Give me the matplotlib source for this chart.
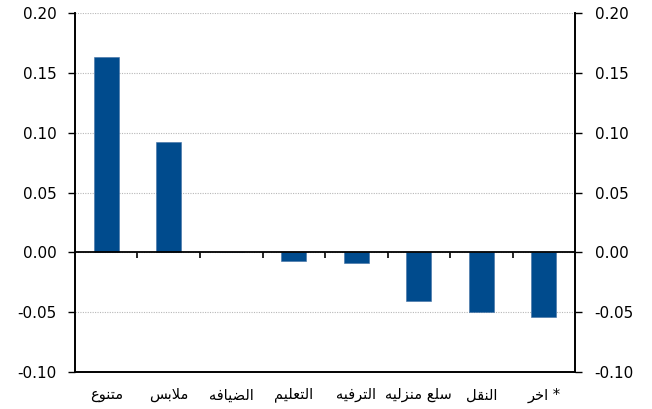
import matplotlib
matplotlib.use('Agg')
import matplotlib.pyplot as plt

categories = ["متنوع", "ملابس", "الضيافه", "التعليم", "الترفيه", "سلع منزليه", "النقل", "اخر *"]
values = [0.163, 0.092, 0.0, -0.007, -0.009, -0.041, -0.050, -0.054]
yticks = [-0.10, -0.05, 0.0, 0.05, 0.10, 0.15, 0.20]

# Arabic presentation forms (isolated, final, initial, medial)
FORMS = {
    'ا': (0xFE8D, 0xFE8E),
    'ب': (0xFE8F, 0xFE90, 0xFE91, 0xFE92),
    'ت': (0xFE95, 0xFE96, 0xFE97, 0xFE98),
    'خ': (0xFEA5, 0xFEA6, 0xFEA7, 0xFEA8),
    'ر': (0xFEAD, 0xFEAE),
    'ز': (0xFEAF, 0xFEB0),
    'س': (0xFEB1, 0xFEB2, 0xFEB3, 0xFEB4),
    'ض': (0xFEBD, 0xFEBE, 0xFEBF, 0xFEC0),
    'ع': (0xFEC9, 0xFECA, 0xFECB, 0xFECC),
    'ف': (0xFED1, 0xFED2, 0xFED3, 0xFED4),
    'ق': (0xFED5, 0xFED6, 0xFED7, 0xFED8),
    'ل': (0xFEDD, 0xFEDE, 0xFEDF, 0xFEE0),
    'م': (0xFEE1, 0xFEE2, 0xFEE3, 0xFEE4),
    'ن': (0xFEE5, 0xFEE6, 0xFEE7, 0xFEE8),
    'ه': (0xFEE9, 0xFEEA, 0xFEEB, 0xFEEC),
    'و': (0xFEED, 0xFEEE),
    'ي': (0xFEF1, 0xFEF2, 0xFEF3, 0xFEF4),
}


def shape(word):
    out = []
    i, n = 0, len(word)
    while i < n:
        c = word[i]
        if c not in FORMS:
            out.append(c)
            i += 1
            continue
        prev = word[i - 1] if i > 0 else ''
        pj = prev in FORMS and len(FORMS[prev]) == 4
        if c == 'ل' and i + 1 < n and word[i + 1] == 'ا':
            out.append(chr(0xFEFC if pj else 0xFEFB))
            i += 2
            continue
        f = FORMS[c]
        nxt = word[i + 1] if i + 1 < n else ''
        nj = len(f) == 4 and nxt in FORMS
        if pj and nj:
            g = f[3]
        elif pj:
            g = f[1]
        elif nj:
            g = f[2]
        else:
            g = f[0]
        out.append(chr(g))
        i += 1
    return ''.join(out)


def visual(s):
    j = len(s)
    while j > 0 and s[j - 1] not in FORMS:
        j -= 1
    return shape(s[:j])[::-1] + s[j:]


plt.rcParams['font.family'] = ['DejaVu Sans']

fig = plt.figure(figsize=(6.52, 4.09), dpi=100)
ax = fig.add_axes([0.115, 0.0905, 0.767, 0.8775])

x = list(range(len(categories)))
color = '#004B8D'
ax.bar(x, values, width=0.4, color=color, edgecolor='#3f6fa3', linewidth=0.4, zorder=3)

ymin, ymax = -0.10, 0.20
ax.set_ylim(ymin, ymax)
ax.set_xlim(-0.5, len(categories) - 0.5)
ax.set_yticks(yticks)
ax.set_yticklabels([f"{v:.2f}" for v in yticks], fontsize=11)
ax.grid(axis='y', color='#b8b8b8', linestyle=(0, (1, 1.2)), linewidth=0.8, zorder=0)
ax.tick_params(axis='y', direction='out', length=5, width=1, color='black', pad=8)

ax.set_xticks(x)
ax.set_xticklabels([visual(c) for c in categories], fontsize=10.5)
ax.tick_params(axis='x', length=0, pad=11)

for s in ['left', 'right', 'bottom']:
    ax.spines[s].set_linewidth(1.2)
    ax.spines[s].set_color('black')
ax.spines['top'].set_visible(False)

# zero line with category separator ticks
ax.axhline(0, color='black', linewidth=1.3, zorder=4)
loc = (0 - ymin) / (ymax - ymin)
sec = ax.secondary_xaxis(loc)
sec.set_xticks([i + 0.5 for i in x[:-1]])
sec.set_xticklabels([])
sec.tick_params(axis='x', direction='out', length=4, width=1.2, color='black')
for s in sec.spines.values():
    s.set_visible(False)

ax2 = ax.twinx()
ax2.set_ylim(ymin, ymax)
ax2.set_yticks(yticks)
ax2.set_yticklabels([f"{v:.2f}" for v in yticks], fontsize=11)
ax2.tick_params(axis='y', direction='out', length=5, width=1, color='black', pad=9)
for s in ['left', 'right', 'bottom']:
    ax2.spines[s].set_linewidth(1.2)
ax2.spines['top'].set_visible(False)

fig.savefig('out.png', dpi=100)
